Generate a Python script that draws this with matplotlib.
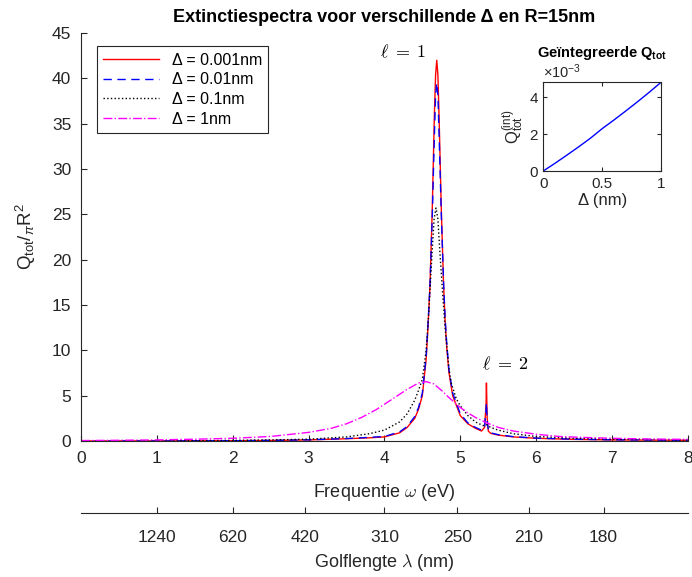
import numpy as np
import matplotlib
matplotlib.use('Agg')
import matplotlib.pyplot as plt
from matplotlib.ticker import FuncFormatter

plt.rcParams['font.family'] = ['Liberation Sans', 'DejaVu Sans']
plt.rcParams['mathtext.fontset'] = 'custom'
plt.rcParams['mathtext.rm'] = 'Liberation Sans'
plt.rcParams['mathtext.it'] = 'Liberation Sans:italic'
plt.rcParams['mathtext.bf'] = 'Liberation Sans:bold'

# frequentie (eV) en Q_tot/piR^2
w_red = [0, 1, 2, 2.5, 3.0, 3.5, 3.8, 4.0, 4.2, 4.3, 4.4, 4.45, 4.5, 4.55, 4.57, 4.6, 4.63, 4.66,
         4.675, 4.69, 4.705, 4.72, 4.75, 4.78, 4.8, 4.82, 4.85, 4.9, 5.0, 5.1, 5.2, 5.28, 5.32,
         5.34, 5.345, 5.355, 5.37, 5.4, 5.5, 5.7, 6.0, 6.5, 7.0, 8.0]
q_red = [0, 0.01, 0.03, 0.06, 0.12, 0.25, 0.35, 0.45, 0.9, 1.5, 2.5, 3.5, 5.0, 9.0, 11.8, 17.0, 25.3, 36.4,
         40.4, 42.0, 40.4, 36.0, 25.6, 17.2, 13.3, 10.5, 7.6, 5.0, 2.8, 1.9, 1.4, 1.1, 1.5,
         4.0, 6.4, 2.5, 1.1, 0.85, 0.65, 0.45, 0.3, 0.18, 0.12, 0.08]

w_blue = [0, 1, 2, 2.5, 3.0, 3.5, 3.8, 4.0, 4.2, 4.3, 4.4, 4.45, 4.5, 4.55, 4.57, 4.6, 4.63, 4.66,
          4.675, 4.69, 4.705, 4.72, 4.75, 4.78, 4.8, 4.82, 4.85, 4.9, 5.0, 5.1, 5.2, 5.28, 5.32,
          5.34, 5.345, 5.355, 5.37, 5.4, 5.5, 5.7, 6.0, 6.5, 7.0, 8.0]
q_blue = [0, 0.01, 0.03, 0.07, 0.13, 0.27, 0.4, 0.5, 1.0, 1.6, 2.7, 3.7, 5.3, 9.3, 12.2, 17.0, 24.5, 34.0,
          38.2, 39.5, 38.2, 34.0, 25.0, 17.5, 13.6, 11.0, 7.9, 5.3, 3.0, 2.0, 1.5, 1.2, 1.5,
          3.5, 4.2, 2.2, 1.2, 0.9, 0.7, 0.48, 0.32, 0.2, 0.13, 0.09]

w_black = [0, 1, 2, 2.5, 3.0, 3.5, 3.8, 4.0, 4.2, 4.3, 4.4, 4.45, 4.5, 4.55, 4.58, 4.6, 4.63,
           4.655, 4.68, 4.705, 4.73, 4.77, 4.8, 4.85, 4.88, 4.95, 5.0, 5.1, 5.2, 5.3, 5.35, 5.4,
           5.5, 5.7, 6.0, 6.5, 7.0, 8.0]
q_black = [0, 0.02, 0.07, 0.12, 0.2, 0.45, 0.8, 1.2, 2.1, 3.0, 4.5, 5.6, 6.8, 10.0, 13.5, 16.5, 21.0,
           24.5, 25.7, 24.5, 21.0, 16.0, 12.5, 8.0, 6.4, 4.6, 3.9, 2.8, 2.1, 1.7, 1.8, 1.5,
           1.2, 0.8, 0.5, 0.3, 0.2, 0.12]

w_mag = [0, 0.5, 1.0, 1.5, 2.0, 2.5, 3.0, 3.3, 3.5, 3.7, 3.9, 4.1, 4.3, 4.45, 4.55, 4.65,
         4.75, 4.85, 5.0, 5.1, 5.2, 5.35, 5.5, 5.7, 6.0, 6.3, 6.6, 7.0, 7.5, 8.0]
q_mag = [0.05, 0.08, 0.12, 0.2, 0.3, 0.5, 0.95, 1.4, 1.9, 2.6, 3.5, 4.6, 5.7, 6.4, 6.55, 6.3,
         5.6, 4.8, 3.7, 3.1, 2.6, 2.0, 1.5, 1.1, 0.75, 0.5, 0.4, 0.3, 0.22, 0.18]

# geintegreerde Q_tot als functie van Delta
delta_nm = [0, 0.1, 0.2, 0.3, 0.4, 0.5, 0.6, 0.7, 0.8, 0.9, 1.0]
q_int = [0, 0.42e-3, 0.86e-3, 1.31e-3, 1.78e-3, 2.3e-3, 2.77e-3, 3.26e-3, 3.76e-3, 4.28e-3, 4.82e-3]

golflengtes = [1240, 620, 420, 310, 250, 210, 180]

grey = '#262626'

fig = plt.figure(figsize=(6.92, 5.77), dpi=100)
ax = fig.add_axes([0.117, 0.2357, 0.877, 0.707])

ax.plot(w_red, q_red, color='#ff0000', lw=1.0, label='Δ = 0.001nm')
ax.plot(w_blue, q_blue, color='#0000ff', lw=1.0, dashes=(6, 4), label='Δ = 0.01nm')
ax.plot(w_black, q_black, color='k', lw=1.0, linestyle=':', label='Δ = 0.1nm')
ax.plot(w_mag, q_mag, color='#ff00ff', lw=1.0, linestyle='-.', label='Δ = 1nm')

ax.set_xlim(0, 8)
ax.set_ylim(0, 45)
ax.set_xticks(range(0, 9))
ax.set_yticks(range(0, 46, 5))
for s in ['top', 'right']:
    ax.spines[s].set_visible(False)
for s in ['left', 'bottom']:
    ax.spines[s].set_color(grey)
ax.tick_params(direction='in', length=4, labelsize=12.5, colors=grey, pad=7)
ax.set_xlabel(r'Frequentie $\omega$ (eV)', fontsize=13, color=grey, labelpad=12,
              math_fontfamily='cm')
ax.set_ylabel(r'Q$_{\rm tot}$/$_{\pi}$R$^2$', fontsize=13.5, color=grey, labelpad=10)
ax.set_title('Extinctiespectra voor verschillende Δ en R=15nm', fontsize=13,
             fontweight='bold', pad=8)

leg = ax.legend(loc='upper left', bbox_to_anchor=(0.026, 0.968), fontsize=11.5,
                handlelength=3.5, fancybox=False, framealpha=1, edgecolor=grey,
                borderaxespad=0, labelspacing=0.3)
leg.get_frame().set_linewidth(0.8)

ax.text(4.24, 42.9, r'$\ell\;=\;1$', fontsize=13, ha='center', va='center', math_fontfamily='cm')
ax.text(5.59, 8.4, r'$\ell\;=\;2$', fontsize=13, ha='center', va='center', math_fontfamily='cm')

# tweede as met golflengtes
ax2 = fig.add_axes([0.117, 0.111, 0.877, 0.01])
ax2.set_xlim(0, 8)
ax2.set_xticks([1240.0 / l for l in golflengtes])
ax2.set_xticklabels([str(l) for l in golflengtes])
ax2.set_yticks([])
for s in ['top', 'right', 'left']:
    ax2.spines[s].set_visible(False)
ax2.spines['bottom'].set_color(grey)
ax2.patch.set_alpha(0)
ax2.tick_params(direction='in', length=4, labelsize=12.5, colors=grey, pad=12)
ax2.set_xlabel(r'Golflengte $\lambda$ (nm)', fontsize=13, color=grey, labelpad=5,
               math_fontfamily='cm')

# inzet
axi = fig.add_axes([0.785, 0.7036, 0.1705, 0.154])
axi.plot(delta_nm, q_int, color='#0000ff', lw=1.0)
axi.set_xlim(0, 1)
axi.set_ylim(0, 4.82e-3)
axi.set_xticks([0, 0.5, 1])
axi.set_yticks([0, 2e-3, 4e-3])
axi.yaxis.set_major_formatter(FuncFormatter(lambda v, p: '%g' % round(v * 1e3, 3)))
axi.xaxis.set_major_formatter(FuncFormatter(lambda v, p: '%g' % v))
for s in axi.spines.values():
    s.set_color(grey)
axi.tick_params(direction='in', length=3, labelsize=11, colors=grey, top=True, right=True, pad=4)
axi.text(0, 1.01, r'$\times$10$^{-3}$', transform=axi.transAxes, fontsize=10.5, color=grey,
         ha='left', va='bottom')
axi.set_xlabel('Δ (nm)', fontsize=12, color=grey, labelpad=2)
axi.set_ylabel(r'Q$_{\rm tot}^{\rm (int)}$', fontsize=12, color=grey, labelpad=2)
axi.set_title(r'Geïntegreerde Q$_{\bf tot}$', fontsize=10.5, fontweight='bold', pad=18)

fig.savefig('out.png', dpi=100)
